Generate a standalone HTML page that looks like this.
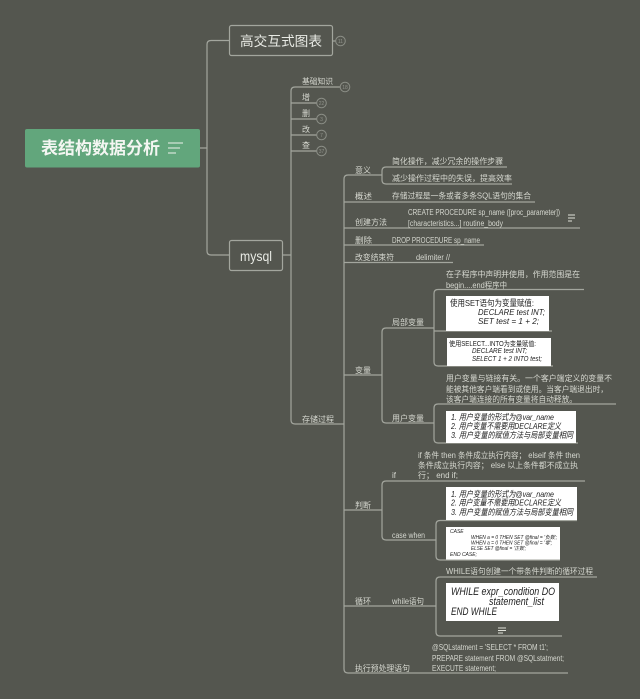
<!DOCTYPE html>
<html><head><meta charset="utf-8"><style>
html,body{margin:0;padding:0;background:#54564f;width:640px;height:699px;overflow:hidden}
svg{display:block;filter:blur(.35px)}
text{font-family:"Liberation Sans","Noto Sans CJK SC",sans-serif;fill:#d6d8d0;font-size:8px}
.l{fill:none;stroke:#a3a69e;stroke-width:1.2}
.c{fill:#54564f;stroke:#8a8d85;stroke-width:1}
.n{font-size:5px;fill:#8f928a;text-anchor:middle}
.w{fill:#fff}
.b{fill:#222}
.i{font-style:italic}
</style></head><body>
<svg width="640" height="699" viewBox="0 0 640 699" xmlns="http://www.w3.org/2000/svg">
<rect width="640" height="699" fill="#54564f"/>
<rect x="25" y="129" width="175" height="38.500" rx="2" fill="#62a67c"/>
<text x="41" y="154" font-size="17" font-weight="bold" style="font-size:17px;font-weight:bold;fill:#f4f6f2" textLength="119" lengthAdjust="spacingAndGlyphs">表结构数据分析</text>
<path d="M168 143H183M168 148H180M168 153H176" stroke="#eef2ec" stroke-width="1.1" fill="none"/>

<path class="l" d="M200 148H207M229 40.500H211Q207 40.500 207 44.500V251Q207 255 211 255H229"/>
<rect x="229.500" y="25.500" width="103" height="30" rx="2" fill="#54564f" stroke="#a3a69e" stroke-width="1.200"/>
<text x="240" y="46" style="font-size:13.500px;fill:#e8eae4" textLength="82" lengthAdjust="spacingAndGlyphs">高交互式图表</text>
<path class="l" d="M333 41H336"/><circle class="c" cx="340.500" cy="41" r="4.800"/><text class="n" x="340.500" y="43">11</text>
<rect x="229.500" y="240.500" width="53" height="30" rx="2" fill="#54564f" stroke="#a3a69e" stroke-width="1.200"/>
<text x="240" y="261" style="font-size:14px;fill:#e8eae4" textLength="32" lengthAdjust="spacingAndGlyphs">mysql</text>

<path class="l" d="M283 255H291M340 87H295Q291 87 291 91V420Q291 424 295 424H344M291 103H317M291 119H317M291 135H317M291 151H317"/>
<text x="302" y="84" textLength="31" lengthAdjust="spacingAndGlyphs">基础知识</text>
<circle class="c" cx="345" cy="87" r="4.800"/><text class="n" x="345" y="89">18</text>
<text x="302" y="100">增</text><circle class="c" cx="321.500" cy="103" r="4.800"/><text class="n" x="321.500" y="105">22</text>
<text x="302" y="116">删</text><circle class="c" cx="321.500" cy="119" r="4.800"/><text class="n" x="321.500" y="121">3</text>
<text x="302" y="132">改</text><circle class="c" cx="321.500" cy="135" r="4.800"/><text class="n" x="321.500" y="137">7</text>
<text x="302" y="148">查</text><circle class="c" cx="321.500" cy="151" r="4.800"/><text class="n" x="321.500" y="153">37</text>
<text x="302" y="422" textLength="32" lengthAdjust="spacingAndGlyphs">存储过程</text>

<path class="l" d="M382 175H348Q344 175 344 179V669Q344 673 348 673H568M344 424H344M344 202H535M344 228H580M344 245H484M344 262.500H453M344 375H382M344 510H382M344 606H436"/>
<path class="l" d="M507 167H386Q382 167 382 171V180Q382 184 386 184H512"/>
<text x="355" y="173" textLength="16" lengthAdjust="spacingAndGlyphs">意义</text>
<text x="392" y="164" textLength="111" lengthAdjust="spacingAndGlyphs">简化操作，减少冗余的操作步骤</text>
<text x="392" y="181" textLength="120" lengthAdjust="spacingAndGlyphs">减少操作过程中的失误，提高效率</text>
<text x="355" y="199" textLength="17" lengthAdjust="spacingAndGlyphs">概述</text>
<text x="392" y="198.500" textLength="139" lengthAdjust="spacingAndGlyphs">存储过程是一条或者多条SQL语句的集合</text>
<text x="355" y="225" textLength="32" lengthAdjust="spacingAndGlyphs">创建方法</text>
<text x="408" y="215" textLength="152" lengthAdjust="spacingAndGlyphs">CREATE PROCEDURE sp_name ([proc_parameter])</text>
<text x="408" y="226" textLength="95" lengthAdjust="spacingAndGlyphs">[characteristics...] routine_body</text>
<path d="M568 215H575M568 218H575M568 221H572" stroke="#e0e2da" stroke-width="1" fill="none"/>
<text x="355" y="243" textLength="17" lengthAdjust="spacingAndGlyphs">删除</text>
<text x="392" y="243" textLength="88" lengthAdjust="spacingAndGlyphs">DROP PROCEDURE sp_name</text>
<text x="355" y="260" textLength="39" lengthAdjust="spacingAndGlyphs">改变结束符</text>
<text x="416" y="260" textLength="34" lengthAdjust="spacingAndGlyphs">delimiter //</text>

<text x="355" y="373" textLength="16" lengthAdjust="spacingAndGlyphs">变量</text>
<path class="l" d="M434 328H386Q382 328 382 332V419Q382 423 386 423H434"/>
<text x="392" y="325" textLength="32" lengthAdjust="spacingAndGlyphs">局部变量</text>
<text x="392" y="421" textLength="32" lengthAdjust="spacingAndGlyphs">用户变量</text>
<path class="l" d="M584 289.500H438Q434 289.500 434 293.500V362Q434 366 438 366H553M434 331H552"/>
<text x="446" y="277" textLength="134" lengthAdjust="spacingAndGlyphs">在子程序中声明并使用，作用范围是在</text>
<text x="446" y="288" textLength="61" lengthAdjust="spacingAndGlyphs">begin....end程序中</text>
<rect class="w" x="446" y="296" width="103" height="35"/>
<text class="b" style="fill:#222;font-size:8.500px" x="450" y="306" textLength="84" lengthAdjust="spacingAndGlyphs">使用SET语句为变量赋值:</text>
<text class="b i" style="fill:#222;font-size:8.500px" x="478" y="315" textLength="67" lengthAdjust="spacingAndGlyphs">DECLARE test INT;</text>
<text class="b i" style="fill:#222;font-size:8.500px" x="478" y="324" textLength="61" lengthAdjust="spacingAndGlyphs">SET test = 1 + 2;</text>
<rect class="w" x="447" y="338" width="104" height="28"/>
<text style="fill:#222;font-size:7px" x="449" y="346" textLength="87" lengthAdjust="spacingAndGlyphs">使用SELECT...INTO为变量赋值:</text>
<text class="i" style="fill:#222;font-size:7px" x="472" y="353" textLength="55" lengthAdjust="spacingAndGlyphs">DECLARE test INT;</text>
<text class="i" style="fill:#222;font-size:7px" x="472" y="361" textLength="70" lengthAdjust="spacingAndGlyphs">SELECT 1 + 2 INTO test;</text>

<path class="l" d="M616 404H438Q434 404 434 408V439Q434 443 438 443H578"/>
<text x="446" y="381" textLength="166" lengthAdjust="spacingAndGlyphs">用户变量与链接有关。一个客户端定义的变量不</text>
<text x="446" y="392" textLength="162" lengthAdjust="spacingAndGlyphs">能被其他客户端看到或使用。当客户端退出时，</text>
<text x="446" y="402" textLength="131" lengthAdjust="spacingAndGlyphs">该客户端连接的所有变量将自动释放。</text>
<rect class="w" x="446" y="411" width="130" height="32"/>
<text class="i" style="fill:#222;font-size:8.500px" x="451" y="420" textLength="103" lengthAdjust="spacingAndGlyphs">1. 用户变量的形式为@var_name</text>
<text class="i" style="fill:#222;font-size:8.500px" x="451" y="429" textLength="110" lengthAdjust="spacingAndGlyphs">2. 用户变量不需要用DECLARE定义</text>
<text class="i" style="fill:#222;font-size:8.500px" x="451" y="438" textLength="122" lengthAdjust="spacingAndGlyphs">3. 用户变量的赋值方法与局部变量相同</text>

<text x="355" y="508" textLength="16" lengthAdjust="spacingAndGlyphs">判断</text>
<path class="l" d="M585 481H386Q382 481 382 485V536Q382 540 386 540H436"/>
<text x="392" y="478">if</text>
<text x="392" y="538" textLength="33" lengthAdjust="spacingAndGlyphs">case when</text>
<text x="418" y="458" textLength="162" lengthAdjust="spacingAndGlyphs">if 条件 then 条件成立执行内容； elseif 条件 then</text>
<text x="418" y="468" textLength="160" lengthAdjust="spacingAndGlyphs">条件成立执行内容； else 以上条件都不成立执</text>
<text x="418" y="478" textLength="40" lengthAdjust="spacingAndGlyphs">行； end if;</text>
<path class="l" d="M577 520.500H440Q436 520.500 436 524.500V556Q436 560 440 560H560"/>
<rect class="w" x="446" y="487" width="131" height="33"/>
<text class="i" style="fill:#222;font-size:8.500px" x="451" y="497" textLength="103" lengthAdjust="spacingAndGlyphs">1. 用户变量的形式为@var_name</text>
<text class="i" style="fill:#222;font-size:8.500px" x="451" y="505.500" textLength="110" lengthAdjust="spacingAndGlyphs">2. 用户变量不需要用DECLARE定义</text>
<text class="i" style="fill:#222;font-size:8.500px" x="451" y="515" textLength="122" lengthAdjust="spacingAndGlyphs">3. 用户变量的赋值方法与局部变量相同</text>
<rect class="w" x="446" y="527" width="114" height="32.500"/>
<text class="i" style="fill:#222;font-size:5px" x="450" y="533">CASE</text>
<text class="i" style="fill:#222;font-size:5px" x="471" y="539" textLength="86" lengthAdjust="spacingAndGlyphs">WHEN a = 0 THEN SET @final = '负数';</text>
<text class="i" style="fill:#222;font-size:5px" x="471" y="544.500" textLength="81" lengthAdjust="spacingAndGlyphs">WHEN a = 0 THEN SET @final = '零';</text>
<text class="i" style="fill:#222;font-size:5px" x="471" y="550" textLength="55" lengthAdjust="spacingAndGlyphs">ELSE SET @final = '正数';</text>
<text class="i" style="fill:#222;font-size:5px" x="450" y="556">END CASE;</text>

<text x="355" y="604" textLength="16" lengthAdjust="spacingAndGlyphs">循环</text>
<text x="392" y="604" textLength="32" lengthAdjust="spacingAndGlyphs">while语句</text>
<path class="l" d="M597 577H440Q436 577 436 581V632Q436 636 440 636H562"/>
<text x="446" y="574" textLength="147" lengthAdjust="spacingAndGlyphs">WHILE语句创建一个带条件判断的循环过程</text>
<rect class="w" x="446" y="583" width="113" height="38"/>
<text class="i" style="fill:#222;font-size:11px" x="451" y="595" textLength="104" lengthAdjust="spacingAndGlyphs">WHILE expr_condition  DO</text>
<text class="i" style="fill:#222;font-size:11px" x="489" y="605" textLength="55" lengthAdjust="spacingAndGlyphs">statement_list</text>
<text class="i" style="fill:#222;font-size:11px" x="451" y="615" textLength="46" lengthAdjust="spacingAndGlyphs">END WHILE</text>
<path d="M498 628H506M498 630.500H506M498 633H503" stroke="#e0e2da" stroke-width="1" fill="none"/>

<text x="355" y="671" textLength="55" lengthAdjust="spacingAndGlyphs">执行预处理语句</text>
<text x="432" y="650" textLength="116" lengthAdjust="spacingAndGlyphs">@SQLstatment = 'SELECT * FROM t1';</text>
<text x="432" y="661" textLength="132" lengthAdjust="spacingAndGlyphs">PREPARE statement FROM @SQLstatment;</text>
<text x="432" y="671" textLength="64" lengthAdjust="spacingAndGlyphs">EXECUTE statement;</text>
</svg>
</body></html>
